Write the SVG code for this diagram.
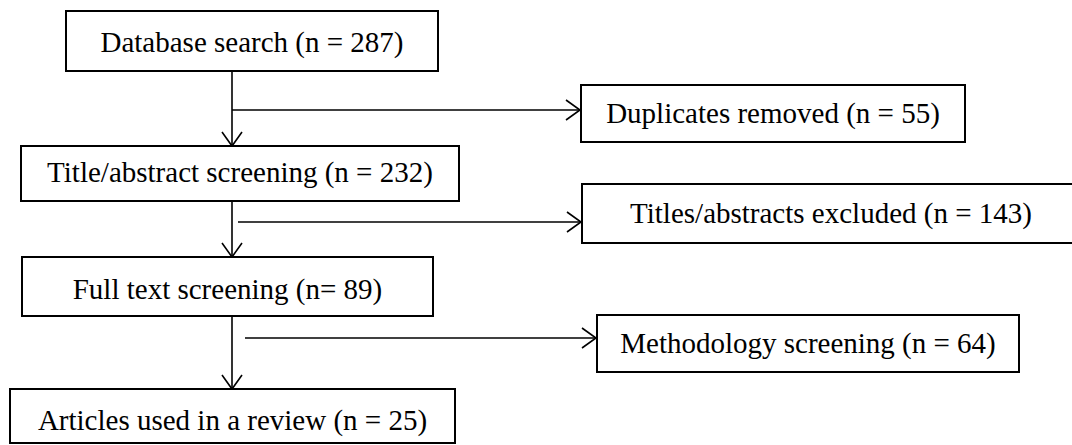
<svg xmlns="http://www.w3.org/2000/svg" width="1072" height="445" viewBox="0 0 1072 445">
<style>
.box{fill:#fff;stroke:#000;stroke-width:2}
.lbl{font-family:"Liberation Serif","Times New Roman",serif;font-size:29px;fill:#000;text-anchor:middle}
.ln{fill:none;stroke:#000;stroke-width:1.6}
</style>
<defs>
<marker id="ah" markerWidth="18" markerHeight="24" refX="15" refY="11" orient="auto" markerUnits="userSpaceOnUse">
<path d="M1,1 L15,11 L1,21" fill="none" stroke="#000" stroke-width="1.6"/>
</marker>
</defs>
<rect width="1072" height="445" fill="#fff"/>
<g id="connectors">
<path class="ln" d="M232,71 V146" marker-end="url(#ah)"/>
<path class="ln" d="M232,110 H580" marker-end="url(#ah)"/>
<path class="ln" d="M232,201 V257" marker-end="url(#ah)"/>
<path class="ln" d="M238,222 H581" marker-end="url(#ah)"/>
<path class="ln" d="M232,316 V389" marker-end="url(#ah)"/>
<path class="ln" d="M245,338 H596" marker-end="url(#ah)"/>
</g>
<g id="n1"><rect class="box" x="66" y="11" width="372" height="60"/><text class="lbl" x="252" y="52">Database search (n = 287)</text></g>
<g id="n2"><rect class="box" x="581" y="85" width="384" height="57"/><text class="lbl" x="773" y="123">Duplicates removed (n = 55)</text></g>
<g id="n3"><rect class="box" x="21" y="146" width="438" height="55"/><text class="lbl" x="240" y="182">Title/abstract screening (n = 232)</text></g>
<g id="n4"><rect class="box" x="582" y="184" width="498" height="59"/><text class="lbl" x="831" y="223">Titles/abstracts excluded (n = 143)</text></g>
<g id="n5"><rect class="box" x="22" y="257" width="411" height="59"/><text class="lbl" x="227.5" y="299">Full text screening (n= 89)</text></g>
<g id="n6"><rect class="box" x="597" y="315" width="422" height="57"/><text class="lbl" x="808" y="353">Methodology screening (n = 64)</text></g>
<g id="n7"><rect class="box" x="10" y="389" width="445" height="54"/><text class="lbl" x="232.5" y="430">Articles used in a review (n = 25)</text></g>
</svg>
